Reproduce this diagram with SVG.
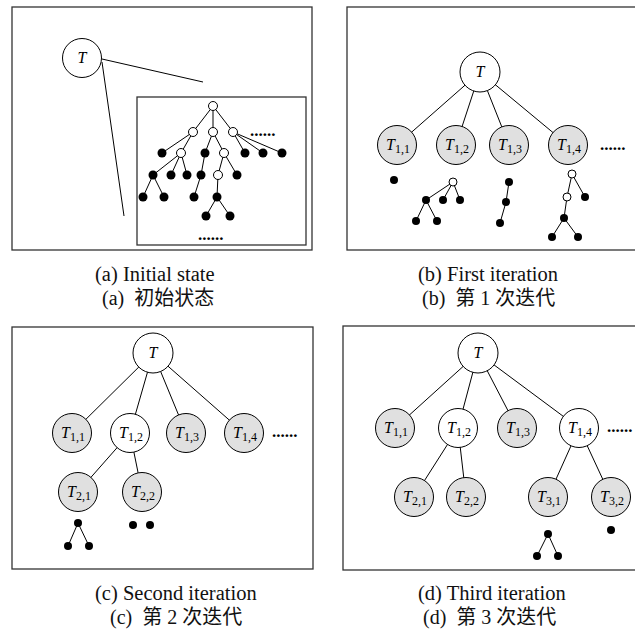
<svg xmlns="http://www.w3.org/2000/svg" width="635" height="630" viewBox="0 0 635 630">
<style>
.box{fill:none;stroke:#333;stroke-width:1.3}
.e{stroke:#000;stroke-width:1;fill:none}
.w{fill:#fff;stroke:#000;stroke-width:1}
.g{fill:#e0e0e0;stroke:#000;stroke-width:1}
.f{fill:#000}
.o{fill:#fff;stroke:#000;stroke-width:1}
.lbl{font-family:"Liberation Serif",serif;font-size:16px;text-anchor:middle}
.lbl .t{font-style:italic}
.lbl .s{font-size:12px}
.ell{font-family:"Liberation Serif",serif;font-size:17px;font-weight:bold;fill:#000}
.cap{font-family:"Liberation Serif","Noto Sans CJK SC",serif;font-size:20.5px;fill:#111;white-space:pre}
.cap2{font-family:"Liberation Serif","Noto Sans CJK SC",serif;font-size:20px;fill:#111;white-space:pre}
</style>
<rect width="635" height="630" fill="#fff"/>

<g id="frames">
<rect class="box" x="12" y="7" width="300" height="243"/>
<rect class="box" x="137" y="97" width="169" height="148"/>
<rect class="box" x="347" y="7" width="300" height="243"/>
<rect class="box" x="12" y="327" width="301" height="242"/>
<rect class="box" x="343" y="326" width="300" height="244"/>
</g>

<g id="connectors">
<line class="e" x1="102" y1="59" x2="203" y2="82"/>
<line class="e" x1="102" y1="62" x2="124" y2="216"/>
<line class="e" x1="213" y1="106" x2="193" y2="132"/>
<line class="e" x1="213" y1="106" x2="213" y2="132"/>
<line class="e" x1="213" y1="106" x2="233" y2="132"/>
<line class="e" x1="193" y1="132" x2="162" y2="153"/>
<line class="e" x1="193" y1="132" x2="181" y2="153"/>
<line class="e" x1="213" y1="132" x2="205" y2="153"/>
<line class="e" x1="213" y1="132" x2="224" y2="153"/>
<line class="e" x1="233" y1="132" x2="245" y2="153"/>
<line class="e" x1="233" y1="132" x2="263" y2="153"/>
<line class="e" x1="233" y1="132" x2="282" y2="153"/>
<line class="e" x1="181" y1="153" x2="153" y2="175"/>
<line class="e" x1="181" y1="153" x2="171" y2="175"/>
<line class="e" x1="181" y1="153" x2="187" y2="175"/>
<line class="e" x1="205" y1="153" x2="201" y2="175"/>
<line class="e" x1="224" y1="153" x2="218" y2="175"/>
<line class="e" x1="224" y1="153" x2="237" y2="175"/>
<line class="e" x1="153" y1="175" x2="143" y2="197"/>
<line class="e" x1="153" y1="175" x2="164" y2="197"/>
<line class="e" x1="201" y1="175" x2="194" y2="197"/>
<line class="e" x1="218" y1="175" x2="217" y2="197"/>
<line class="e" x1="217" y1="197" x2="206" y2="216"/>
<line class="e" x1="217" y1="197" x2="230" y2="216"/>
<line class="e" x1="480" y1="72" x2="397" y2="145"/>
<line class="e" x1="480" y1="72" x2="456" y2="145"/>
<line class="e" x1="480" y1="72" x2="509" y2="145"/>
<line class="e" x1="480" y1="72" x2="568" y2="145"/>
<line class="e" x1="453" y1="182" x2="426" y2="200"/>
<line class="e" x1="453" y1="182" x2="443" y2="200"/>
<line class="e" x1="453" y1="182" x2="460" y2="200"/>
<line class="e" x1="426" y1="200" x2="416" y2="221"/>
<line class="e" x1="426" y1="200" x2="437" y2="221"/>
<line class="e" x1="509" y1="182" x2="506" y2="202"/>
<line class="e" x1="506" y1="202" x2="500" y2="223"/>
<line class="e" x1="572" y1="174" x2="567" y2="197"/>
<line class="e" x1="572" y1="174" x2="585" y2="197"/>
<line class="e" x1="567" y1="197" x2="564" y2="218"/>
<line class="e" x1="564" y1="218" x2="552" y2="237"/>
<line class="e" x1="564" y1="218" x2="578" y2="237"/>
<line class="e" x1="153" y1="353" x2="72" y2="433"/>
<line class="e" x1="153" y1="353" x2="130" y2="433"/>
<line class="e" x1="153" y1="353" x2="186" y2="433"/>
<line class="e" x1="153" y1="353" x2="244" y2="433"/>
<line class="e" x1="130" y1="433" x2="78" y2="492"/>
<line class="e" x1="130" y1="433" x2="142" y2="492"/>
<line class="e" x1="78" y1="523" x2="68" y2="546"/>
<line class="e" x1="78" y1="523" x2="89" y2="546"/>
<line class="e" x1="478" y1="353" x2="395" y2="428"/>
<line class="e" x1="478" y1="353" x2="458" y2="428"/>
<line class="e" x1="478" y1="353" x2="517" y2="428"/>
<line class="e" x1="478" y1="353" x2="579" y2="428"/>
<line class="e" x1="458" y1="428" x2="414" y2="497"/>
<line class="e" x1="458" y1="428" x2="466" y2="497"/>
<line class="e" x1="579" y1="428" x2="548" y2="497"/>
<line class="e" x1="579" y1="428" x2="611" y2="497"/>
<line class="e" x1="548" y1="534" x2="537" y2="556"/>
<line class="e" x1="548" y1="534" x2="558" y2="556"/>
</g>

<g id="a-T"><circle class="w" cx="82" cy="58" r="19.5"/><text class="lbl" x="82" y="63"><tspan class="t">T</tspan></text></g>
<g id="a-tree">
<circle class="o" cx="213" cy="106" r="4.5"/>
<circle class="o" cx="193" cy="132" r="4.5"/>
<circle class="o" cx="213" cy="132" r="4.5"/>
<circle class="o" cx="233" cy="132" r="4.5"/>
<circle class="f" cx="162" cy="153" r="4.5"/>
<circle class="o" cx="181" cy="153" r="4.5"/>
<circle class="f" cx="205" cy="153" r="4.5"/>
<circle class="o" cx="224" cy="153" r="4.5"/>
<circle class="f" cx="245" cy="153" r="4.5"/>
<circle class="f" cx="263" cy="153" r="4.5"/>
<circle class="f" cx="282" cy="153" r="4.5"/>
<circle class="f" cx="153" cy="175" r="4.5"/>
<circle class="f" cx="171" cy="175" r="4.5"/>
<circle class="f" cx="187" cy="175" r="4.5"/>
<circle class="f" cx="201" cy="175" r="4.5"/>
<circle class="o" cx="218" cy="175" r="4.5"/>
<circle class="f" cx="237" cy="175" r="4.5"/>
<circle class="f" cx="143" cy="197" r="4.5"/>
<circle class="f" cx="164" cy="197" r="4.5"/>
<circle class="f" cx="194" cy="197" r="4.5"/>
<circle class="f" cx="217" cy="197" r="4.5"/>
<circle class="f" cx="206" cy="216" r="4.5"/>
<circle class="f" cx="230" cy="216" r="4.5"/>
<text class="ell" x="250" y="136">......</text>
<text class="ell" x="198" y="240">......</text>
</g>

<g id="b-T"><circle class="w" cx="480" cy="72" r="20"/><text class="lbl" x="480" y="77"><tspan class="t">T</tspan></text></g>
<g id="b-T11"><circle class="g" cx="397" cy="145" r="19.5"/><text class="lbl" x="398" y="150"><tspan class="t">T</tspan><tspan class="s" dy="3">1,1</tspan></text></g>
<g id="b-T12"><circle class="g" cx="456" cy="145" r="19.5"/><text class="lbl" x="457" y="150"><tspan class="t">T</tspan><tspan class="s" dy="3">1,2</tspan></text></g>
<g id="b-T13"><circle class="g" cx="509" cy="145" r="19.5"/><text class="lbl" x="510" y="150"><tspan class="t">T</tspan><tspan class="s" dy="3">1,3</tspan></text></g>
<g id="b-T14"><circle class="g" cx="568" cy="145" r="19.5"/><text class="lbl" x="569" y="150"><tspan class="t">T</tspan><tspan class="s" dy="3">1,4</tspan></text></g>
<g id="b-more"><text class="ell" x="600" y="150">......</text></g>
<g id="b-sub">
<circle class="f" cx="394" cy="180" r="4"/>
<circle class="o" cx="453" cy="182" r="4"/>
<circle class="f" cx="426" cy="200" r="4"/>
<circle class="f" cx="443" cy="200" r="4"/>
<circle class="f" cx="460" cy="200" r="4"/>
<circle class="f" cx="416" cy="221" r="4"/>
<circle class="f" cx="437" cy="221" r="4"/>
<circle class="f" cx="509" cy="182" r="4"/>
<circle class="f" cx="506" cy="202" r="4"/>
<circle class="f" cx="500" cy="223" r="4"/>
<circle class="o" cx="572" cy="174" r="4"/>
<circle class="o" cx="567" cy="197" r="4"/>
<circle class="f" cx="585" cy="197" r="4"/>
<circle class="f" cx="564" cy="218" r="4"/>
<circle class="f" cx="552" cy="237" r="4"/>
<circle class="f" cx="578" cy="237" r="4"/>
</g>

<g id="c-T"><circle class="w" cx="153" cy="353" r="20"/><text class="lbl" x="153" y="358"><tspan class="t">T</tspan></text></g>
<g id="c-T11"><circle class="g" cx="72" cy="433" r="19.5"/><text class="lbl" x="73" y="438"><tspan class="t">T</tspan><tspan class="s" dy="3">1,1</tspan></text></g>
<g id="c-T12"><circle class="w" cx="130" cy="433" r="19.5"/><text class="lbl" x="131" y="438"><tspan class="t">T</tspan><tspan class="s" dy="3">1,2</tspan></text></g>
<g id="c-T13"><circle class="g" cx="186" cy="433" r="19.5"/><text class="lbl" x="187" y="438"><tspan class="t">T</tspan><tspan class="s" dy="3">1,3</tspan></text></g>
<g id="c-T14"><circle class="g" cx="244" cy="433" r="19.5"/><text class="lbl" x="245" y="438"><tspan class="t">T</tspan><tspan class="s" dy="3">1,4</tspan></text></g>
<g id="c-more"><text class="ell" x="272" y="437">......</text></g>
<g id="c-T21"><circle class="g" cx="78" cy="492" r="19.5"/><text class="lbl" x="79" y="497"><tspan class="t">T</tspan><tspan class="s" dy="3">2,1</tspan></text></g>
<g id="c-T22"><circle class="g" cx="142" cy="492" r="19.5"/><text class="lbl" x="143" y="497"><tspan class="t">T</tspan><tspan class="s" dy="3">2,2</tspan></text></g>
<g id="c-sub">
<circle class="f" cx="78" cy="523" r="4"/>
<circle class="f" cx="68" cy="546" r="4"/>
<circle class="f" cx="89" cy="546" r="4"/>
<circle class="f" cx="133" cy="525" r="4"/>
<circle class="f" cx="150" cy="525" r="4"/>
</g>

<g id="d-T"><circle class="w" cx="478" cy="353" r="20"/><text class="lbl" x="478" y="358"><tspan class="t">T</tspan></text></g>
<g id="d-T11"><circle class="g" cx="395" cy="428" r="19.5"/><text class="lbl" x="396" y="433"><tspan class="t">T</tspan><tspan class="s" dy="3">1,1</tspan></text></g>
<g id="d-T12"><circle class="w" cx="458" cy="428" r="19.5"/><text class="lbl" x="459" y="433"><tspan class="t">T</tspan><tspan class="s" dy="3">1,2</tspan></text></g>
<g id="d-T13"><circle class="g" cx="517" cy="428" r="19.5"/><text class="lbl" x="518" y="433"><tspan class="t">T</tspan><tspan class="s" dy="3">1,3</tspan></text></g>
<g id="d-T14"><circle class="w" cx="579" cy="428" r="19.5"/><text class="lbl" x="580" y="433"><tspan class="t">T</tspan><tspan class="s" dy="3">1,4</tspan></text></g>
<g id="d-more"><text class="ell" x="607" y="432">......</text></g>
<g id="d-T21"><circle class="g" cx="414" cy="497" r="19.5"/><text class="lbl" x="415" y="502"><tspan class="t">T</tspan><tspan class="s" dy="3">2,1</tspan></text></g>
<g id="d-T22"><circle class="g" cx="466" cy="497" r="19.5"/><text class="lbl" x="467" y="502"><tspan class="t">T</tspan><tspan class="s" dy="3">2,2</tspan></text></g>
<g id="d-T31"><circle class="g" cx="548" cy="497" r="19.5"/><text class="lbl" x="549" y="502"><tspan class="t">T</tspan><tspan class="s" dy="3">3,1</tspan></text></g>
<g id="d-T32"><circle class="g" cx="611" cy="497" r="19.5"/><text class="lbl" x="612" y="502"><tspan class="t">T</tspan><tspan class="s" dy="3">3,2</tspan></text></g>
<g id="d-sub">
<circle class="f" cx="548" cy="534" r="4"/>
<circle class="f" cx="537" cy="556" r="4"/>
<circle class="f" cx="558" cy="556" r="4"/>
<circle class="f" cx="611" cy="530" r="4"/>
</g>

<g id="captions">
<text class="cap" x="95" y="281">(a) Initial state</text>
<text class="cap2" x="102" y="305">(a)  初始状态</text>
<text class="cap" x="418" y="281">(b) First iteration</text>
<text class="cap2" x="422" y="305">(b)  第 1 次迭代</text>
<text class="cap" x="95" y="600">(c) Second iteration</text>
<text class="cap2" x="110" y="624">(c)  第 2 次迭代</text>
<text class="cap" x="418" y="600">(d) Third iteration</text>
<text class="cap2" x="423" y="624">(d)  第 3 次迭代</text>
</g>
</svg>
